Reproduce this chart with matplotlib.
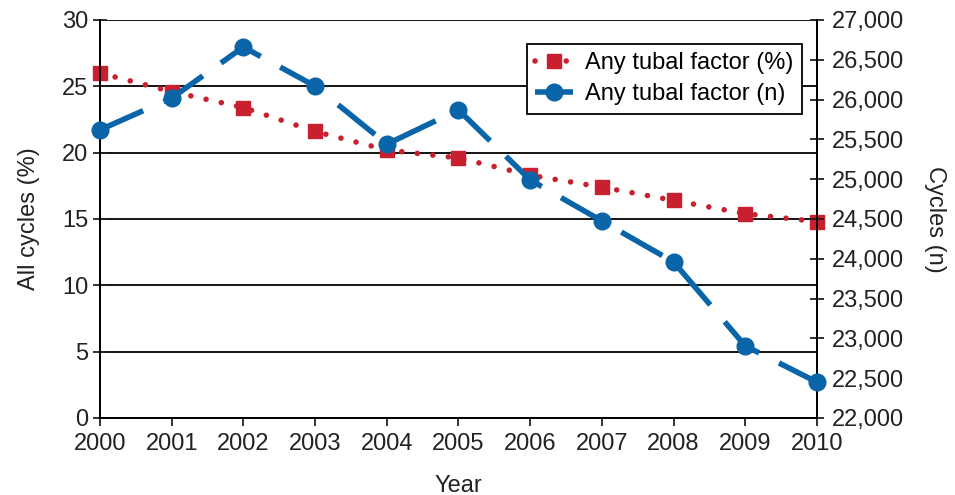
import matplotlib.pyplot as plt
from matplotlib.ticker import FuncFormatter

years = [2000, 2001, 2002, 2003, 2004, 2005, 2006, 2007, 2008, 2009, 2010]
tubal_pct = [26.0, 24.6, 23.4, 21.6, 20.2, 19.6, 18.3, 17.4, 16.4, 15.4, 14.8]
tubal_n = [25620, 26020, 26660, 26170, 25440, 25870, 24990, 24475, 23960, 22905, 22450]

red = "#c8202f"
blue = "#0a64a8"

plt.rcParams["font.family"] = "Liberation Sans"
plt.rcParams["font.size"] = 17

fig = plt.figure(figsize=(9.55, 4.95), dpi=100)
ax = fig.add_axes([0.1047, 0.1556, 0.7508, 0.804])
ax2 = ax.twinx()

l1, = ax.plot(years, tubal_pct, color=red, ls=(0, (0.01, 2.8)), lw=4, dash_capstyle="round",
              marker="s", ms=10, label="Any tubal factor (%)", zorder=3, clip_on=False)
l2, = ax2.plot(years, tubal_n, color=blue, ls=(0, (8.5, 4)), lw=4,
               marker="o", ms=12, label="Any tubal factor (n)", zorder=3, clip_on=False)

ax.set_xlim(2000, 2010)
ax.set_ylim(0, 30)
ax.set_yticks(range(0, 31, 5))
ax.set_xticks(years)
ax2.set_ylim(22000, 27000)
ax2.set_yticks(range(22000, 27001, 500))
ax2.yaxis.set_major_formatter(FuncFormatter(lambda v, p: f"{int(v):,}"))

ax.grid(axis="y", color="black", lw=1.3)
for a in (ax, ax2):
    a.spines["top"].set_visible(False)
    for s in a.spines.values():
        s.set_linewidth(1.3)
    a.tick_params(direction="inout", length=10, width=1.3, colors="#222222", labelsize=17)
ax.tick_params(axis="x", direction="out", length=6, pad=5)
ax2.tick_params(axis="y", pad=6)
ax.set_axisbelow(True)

ax.set_xlabel("Year", fontsize=17, color="#222222", labelpad=14)
ax.set_ylabel("All cycles (%)", fontsize=17, color="#222222", labelpad=16)
ax2.set_ylabel("Cycles (n)", fontsize=17, color="#222222", rotation=270, labelpad=30)

ax2.legend(handles=[l1, l2], loc="upper right", bbox_to_anchor=(0.995, 0.97),
           frameon=True, fancybox=False, edgecolor="black", framealpha=1,
           handlelength=1.6, handletextpad=0.5, fontsize=17, borderpad=0.35,
           labelspacing=0.4)
ax2.get_legend().get_frame().set_linewidth(1.3)

fig.savefig("out.png", dpi=100)
